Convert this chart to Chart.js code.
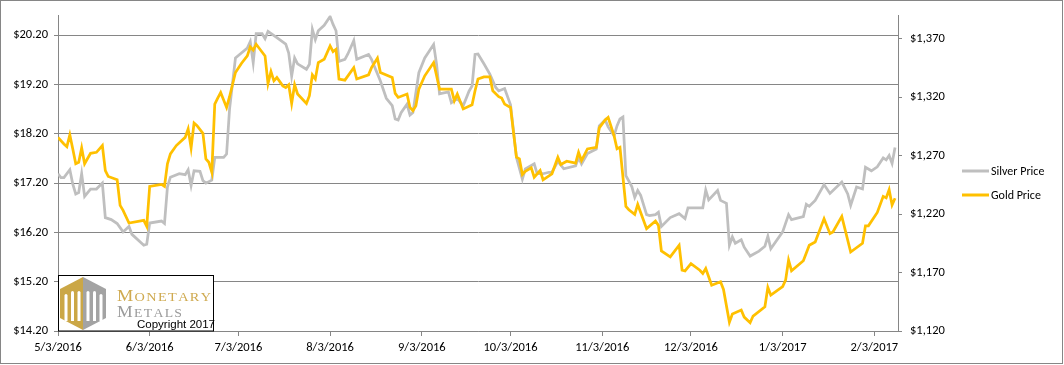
<!DOCTYPE html>
<html><head><meta charset="utf-8">
<script src="https://cdn.jsdelivr.net/npm/chart.js@4.4.1/dist/chart.umd.min.js"></script>
<style>html,body{margin:0;padding:0;background:#fff;}#wrap{width:1064px;height:365px;position:relative;}</style>
</head><body><div id="wrap"><canvas id="c" width="1064" height="365"></canvas></div>
<script>
const seriesNames = ["Silver Price", "Gold Price"];
const xTickLabels = ["5/3/2016","6/3/2016","7/3/2016","8/3/2016","9/3/2016","10/3/2016","11/3/2016","12/3/2016","1/3/2017","2/3/2017"];
const xAxisEnd = "2/11/2017";
const leftTicks = [14.2, 15.2, 16.2, 17.2, 18.2, 19.2, 20.2];
const leftMax = 20.6;
const rightTicks = [1120, 1170, 1220, 1270, 1320, 1370];
const rightMax = 1390;

const silverDates = ["5/3/2016","5/4/2016","5/5/2016","5/7/2016","5/8/2016","5/9/2016","5/10/2016","5/11/2016","5/12/2016","5/14/2016","5/16/2016","5/18/2016","5/19/2016","5/21/2016","5/23/2016","5/25/2016","5/27/2016","5/28/2016",
"6/1/2016","6/2/2016","6/3/2016","6/7/2016","6/8/2016","6/9/2016","6/10/2016","6/13/2016","6/15/2016","6/16/2016","6/17/2016","6/18/2016","6/20/2016","6/21/2016","6/22/2016","6/24/2016","6/25/2016","6/28/2016","6/29/2016","6/30/2016",
"7/2/2016","7/4/2016","7/6/2016","7/7/2016","7/8/2016","7/9/2016","7/11/2016","7/12/2016","7/13/2016","7/16/2016","7/19/2016","7/20/2016","7/21/2016","7/22/2016","7/23/2016","7/26/2016","7/27/2016","7/28/2016","7/29/2016","7/30/2016",
"8/1/2016","8/3/2016","8/4/2016","8/5/2016","8/6/2016","8/8/2016","8/9/2016","8/11/2016","8/12/2016","8/16/2016","8/17/2016","8/20/2016","8/22/2016","8/24/2016","8/25/2016","8/26/2016","8/27/2016","8/29/2016","8/30/2016","8/31/2016",
"9/2/2016","9/4/2016","9/7/2016","9/8/2016","9/9/2016","9/12/2016","9/13/2016","9/15/2016","9/17/2016","9/19/2016","9/20/2016","9/21/2016","9/22/2016","9/24/2016","9/26/2016","9/28/2016","9/29/2016",
"10/1/2016","10/3/2016","10/5/2016","10/7/2016","10/8/2016","10/11/2016","10/12/2016","10/14/2016","10/16/2016","10/17/2016","10/19/2016","10/21/2016","10/25/2016","10/26/2016","10/27/2016","10/29/2016",
"11/1/2016","11/2/2016","11/4/2016","11/5/2016","11/7/2016","11/8/2016","11/9/2016","11/10/2016","11/11/2016","11/13/2016","11/14/2016","11/15/2016","11/16/2016","11/18/2016","11/19/2016","11/21/2016","11/22/2016","11/23/2016","11/26/2016","11/29/2016",
"12/1/2016","12/2/2016","12/5/2016","12/7/2016","12/8/2016","12/9/2016","12/12/2016","12/13/2016","12/15/2016","12/16/2016","12/17/2016","12/18/2016","12/20/2016","12/21/2016","12/23/2016","12/26/2016","12/28/2016","12/29/2016","12/30/2016",
"1/3/2017","1/5/2017","1/6/2017","1/10/2017","1/11/2017","1/12/2017","1/14/2017","1/17/2017","1/19/2017","1/23/2017","1/25/2017","1/26/2017","1/28/2017","1/30/2017","1/31/2017",
"2/2/2017","2/4/2017","2/6/2017","2/7/2017","2/8/2017","2/9/2017","2/10/2017"];
const silverPrices = [17.39,17.31,17.31,17.47,17.18,16.98,17.01,17.39,16.93,17.08,17.08,17.20,16.50,16.46,16.38,16.21,16.32,16.16,
15.94,15.96,16.39,16.43,16.38,17.12,17.32,17.39,17.37,17.47,17.15,17.45,17.44,17.25,17.20,17.26,17.72,17.72,17.79,18.70,
19.74,19.84,19.94,20.07,19.64,20.23,20.23,20.13,20.28,20.15,20.02,19.84,19.37,19.74,19.62,19.51,19.61,20.32,20.11,20.29,
20.40,20.58,20.42,20.29,19.67,19.71,19.82,20.09,19.71,19.81,19.71,19.27,18.92,18.77,18.50,18.48,18.63,18.80,18.58,18.63,
19.44,19.74,20.01,19.61,19.01,19.05,18.83,18.92,18.77,19.07,19.17,19.81,19.82,19.62,19.41,19.14,19.07,
19.12,18.79,17.72,17.28,17.49,17.59,17.39,17.39,17.42,17.42,17.64,17.49,17.55,17.72,17.59,17.80,
17.89,18.36,18.48,18.34,18.16,18.36,18.50,18.54,17.35,17.13,16.91,17.05,16.95,16.56,16.54,16.56,16.61,16.32,16.50,16.58,
16.48,16.70,16.70,16.70,17.06,16.86,17.05,16.85,16.79,15.94,16.11,15.98,16.05,15.90,15.72,15.82,15.92,16.12,15.87,
16.21,16.56,16.46,16.52,16.77,16.73,16.85,17.17,16.99,17.22,16.98,16.75,17.12,17.08,17.52,
17.45,17.53,17.71,17.67,17.76,17.60,17.92];

const goldDates = ["5/3/2016","5/5/2016","5/6/2016","5/7/2016","5/8/2016","5/9/2016","5/10/2016","5/11/2016","5/12/2016","5/14/2016","5/16/2016","5/18/2016","5/19/2016","5/20/2016","5/23/2016","5/24/2016","5/25/2016","5/27/2016",
"6/1/2016","6/2/2016","6/3/2016","6/7/2016","6/8/2016","6/9/2016","6/10/2016","6/12/2016","6/15/2016","6/16/2016","6/17/2016","6/18/2016","6/19/2016","6/21/2016","6/22/2016","6/23/2016","6/24/2016","6/25/2016","6/26/2016","6/27/2016","6/29/2016","6/30/2016",
"7/2/2016","7/4/2016","7/6/2016","7/7/2016","7/8/2016","7/9/2016","7/12/2016","7/13/2016","7/14/2016","7/15/2016","7/16/2016","7/18/2016","7/19/2016","7/20/2016","7/21/2016","7/22/2016","7/23/2016","7/26/2016","7/27/2016","7/28/2016","7/29/2016","7/30/2016",
"8/1/2016","8/3/2016","8/4/2016","8/5/2016","8/6/2016","8/8/2016","8/11/2016","8/12/2016","8/16/2016","8/17/2016","8/19/2016","8/20/2016","8/24/2016","8/25/2016","8/26/2016","8/29/2016","8/30/2016","8/31/2016",
"9/1/2016","9/2/2016","9/4/2016","9/7/2016","9/8/2016","9/9/2016","9/13/2016","9/14/2016","9/15/2016","9/17/2016","9/20/2016","9/21/2016","9/22/2016","9/24/2016","9/26/2016","9/27/2016","9/29/2016","9/30/2016",
"10/1/2016","10/3/2016","10/5/2016","10/6/2016","10/7/2016","10/8/2016","10/10/2016","10/11/2016","10/13/2016","10/14/2016","10/17/2016","10/19/2016","10/20/2016","10/22/2016","10/25/2016","10/26/2016","10/27/2016","10/29/2016",
"11/1/2016","11/2/2016","11/4/2016","11/5/2016","11/7/2016","11/8/2016","11/9/2016","11/11/2016","11/12/2016","11/14/2016","11/15/2016","11/18/2016","11/21/2016","11/22/2016","11/23/2016","11/26/2016","11/29/2016","11/30/2016",
"12/1/2016","12/3/2016","12/6/2016","12/7/2016","12/8/2016","12/10/2016","12/13/2016","12/14/2016","12/16/2016","12/17/2016","12/20/2016","12/21/2016","12/23/2016","12/24/2016","12/28/2016","12/29/2016","12/30/2016",
"1/3/2017","1/4/2017","1/5/2017","1/6/2017","1/10/2017","1/11/2017","1/12/2017","1/14/2017","1/17/2017","1/19/2017","1/20/2017","1/23/2017","1/26/2017","1/30/2017","1/31/2017",
"2/1/2017","2/4/2017","2/6/2017","2/7/2017","2/8/2017","2/9/2017","2/10/2017"];
const goldPrices = [1285.7,1280.1,1277.8,1287.8,1275.8,1263.1,1264.4,1276.7,1263.1,1272.1,1272.9,1278.7,1257.3,1252.2,1249.4,1227.5,1223.2,1212.4,
1214.7,1209.6,1243.7,1245.4,1243.7,1263.1,1271.6,1278.7,1285.7,1292.9,1276.7,1298.0,1295.7,1289.1,1267.3,1264.4,1255.9,1314.2,1319.3,1324.1,1311.3,1320.5,
1341.2,1348.9,1355.4,1363.1,1360.3,1365.4,1355.4,1331.8,1342.0,1334.1,1336.9,1329.8,1328.4,1330.7,1314.7,1330.7,1322.8,1314.7,1321.3,1339.2,1335.6,1349.7,
1352.6,1364.0,1359.1,1361.1,1335.6,1334.7,1345.4,1335.6,1339.2,1345.4,1353.5,1341.2,1336.9,1323.3,1319.9,1322.8,1311.3,1308.5,
1312.8,1327.0,1338.4,1349.7,1338.4,1327.0,1327.0,1317.0,1322.8,1310.0,1313.6,1325.6,1335.6,1337.5,1337.5,1325.6,1320.5,1319.3,
1314.2,1311.3,1268.7,1267.3,1253.9,1256.7,1259.6,1251.6,1257.3,1249.4,1254.5,1268.7,1262.5,1265.3,1263.6,1272.9,1265.9,1275.8,
1277.2,1293.8,1300.6,1302.8,1287.2,1276.0,1277.2,1226.6,1223.8,1219.8,1228.3,1207.6,1214.1,1210.4,1188.5,1183.4,1193.4,1172.0,
1171.4,1177.7,1172.0,1169.2,1173.5,1159.2,1162.1,1155.6,1127.5,1134.5,1137.9,1131.9,1127.1,1132.8,1140.7,1157.3,1150.7,
1158.0,1163.5,1180.6,1171.6,1180.1,1186.8,1193.4,1196.2,1216.1,1203.3,1204.7,1218.1,1187.6,1195.1,1210.0,
1210.0,1221.5,1235.2,1233.9,1240.9,1227.9,1233.6];

const silverColor = '#BFBFBF';
const goldColor = '#FFC000';
const axisColor = '#868686';
const tickFont = {family: "Carlito, Calibri, 'Liberation Sans', sans-serif", size: 12.5};

function toDate(s) { const p = s.split('/').map(Number); return Date.UTC(p[2], p[0] - 1, p[1]); }
const origin = toDate(xTickLabels[0]);
function dayIndex(s) { return Math.round((toDate(s) - origin) / 86400000); }

const chromePlugin = {
  id: 'chrome',
  beforeDraw(chart) {
    const ctx = chart.ctx;
    ctx.save(); ctx.fillStyle = '#fff'; ctx.fillRect(0, 0, chart.width, chart.height); ctx.restore();
  },
  afterDraw(chart) {
    const ctx = chart.ctx;
    ctx.save();
    // legend
    const legend = [[seriesNames[0], silverColor, 171], [seriesNames[1], goldColor, 195]];
    ctx.font = "12px Carlito, Calibri, 'Liberation Sans', sans-serif";
    ctx.textBaseline = 'middle';
    legend.forEach(([t, c, y]) => {
      ctx.strokeStyle = c; ctx.lineWidth = 3;
      ctx.beginPath(); ctx.moveTo(962, y); ctx.lineTo(989, y); ctx.stroke();
      ctx.fillStyle = '#000'; ctx.fillText(t, 991, y + 0.5);
    });
    // logo box
    ctx.fillStyle = '#fff'; ctx.fillRect(58, 275, 155, 56);
    ctx.strokeStyle = '#000'; ctx.lineWidth = 1; ctx.strokeRect(58.5, 275.5, 155, 55.5);
    // hexagon mark
    ctx.fillStyle = '#CBA746';
    ctx.beginPath(); ctx.moveTo(83, 277); ctx.lineTo(83, 330); ctx.lineTo(60, 318); ctx.lineTo(60, 289); ctx.closePath(); ctx.fill();
    ctx.fillStyle = '#A3A3A3';
    ctx.beginPath(); ctx.moveTo(83, 277); ctx.lineTo(106, 289); ctx.lineTo(106, 318); ctx.lineTo(83, 330); ctx.closePath(); ctx.fill();
    ctx.fillStyle = '#fff';
    [[64.5, 294], [71, 291], [77.5, 291], [86.5, 291], [93, 291], [99.5, 294]].forEach(([x, y]) => {
      ctx.beginPath();
      ctx.moveTo(x, 321); ctx.lineTo(x, y + 1.5);
      ctx.arc(x + 1.5, y + 1.5, 1.5, Math.PI, 0);
      ctx.lineTo(x + 3, 321); ctx.closePath(); ctx.fill();
    });
    function caps(text, x, base, width, big, small, color) {
      ctx.save();
      ctx.fillStyle = color; ctx.textBaseline = 'alphabetic';
      ctx.font = big + "px 'Liberation Serif', serif";
      const w1 = ctx.measureText(text[0]).width;
      ctx.font = small + "px 'Liberation Serif', serif";
      const rest = text.slice(1).split('');
      const ws = rest.map(ch => ctx.measureText(ch).width);
      const gap = 1.2;
      const natural = w1 + ws.reduce((a, b) => a + b, 0) + gap * rest.length;
      ctx.translate(x, base); ctx.scale(width / natural, 1);
      ctx.font = big + "px 'Liberation Serif', serif"; ctx.fillText(text[0], 0, 0);
      ctx.font = small + "px 'Liberation Serif', serif";
      let cx = w1 + gap;
      rest.forEach((ch, i) => { ctx.fillText(ch, cx, 0); cx += ws[i] + gap; });
      ctx.restore();
    }
    caps('MONETARY', 117, 301, 94, 16, 12.5, '#CFAA50');
    caps('METALS', 117, 317, 65, 16, 12.5, '#9B9B9B');
    ctx.fillStyle = '#000'; ctx.font = "11.5px 'Liberation Sans', sans-serif"; ctx.textBaseline = 'alphabetic';
    ctx.fillText('Copyright 2017', 137, 328);
    // outer border
    ctx.strokeStyle = axisColor; ctx.lineWidth = 1; ctx.strokeRect(0.5, 0.5, 1062, 363);
    ctx.restore();
  }
};

new Chart(document.getElementById('c'), {
  type: 'line',
  data: {
    datasets: [
      { label: seriesNames[0], data: silverDates.map((d, i) => ({x: dayIndex(d), y: silverPrices[i]})),
        borderColor: silverColor, borderWidth: 2.75, pointRadius: 0, tension: 0, yAxisID: 'y', order: 2, fill: false },
      { label: seriesNames[1], data: goldDates.map((d, i) => ({x: dayIndex(d), y: goldPrices[i]})),
        borderColor: goldColor, borderWidth: 2.75, pointRadius: 0, tension: 0, yAxisID: 'y1', order: 1, fill: false }
    ]
  },
  options: {
    responsive: false, animation: false, devicePixelRatio: 1,
    layout: { padding: { top: 14, left: 0, right: 0, bottom: 0 } },
    plugins: { legend: { display: false }, tooltip: { enabled: false } },
    scales: {
      x: {
        type: 'linear', min: 0, max: dayIndex(xAxisEnd),
        afterBuildTicks: s => { s.ticks = xTickLabels.map(l => ({value: dayIndex(l)})); },
        ticks: { autoSkip: false, maxRotation: 0, minRotation: 0, color: '#000', font: tickFont, padding: 4,
          callback: v => { const l = xTickLabels.find(t => dayIndex(t) === v); return l || ''; } },
        grid: { drawOnChartArea: false, tickLength: 5, color: axisColor },
        border: { color: axisColor },
        afterFit: s => { s.height = 34; }
      },
      y: {
        position: 'left', min: leftTicks[0], max: leftMax,
        afterBuildTicks: s => { s.ticks = leftTicks.map(v => ({value: v})); },
        ticks: { color: '#000', font: tickFont, padding: 6, callback: v => '$' + Number(v).toFixed(2) },
        grid: { color: axisColor, tickLength: 4 },
        border: { color: axisColor },
        afterFit: s => { s.width = 58; }
      },
      y1: {
        position: 'right', min: rightTicks[0], max: rightMax,
        afterBuildTicks: s => { s.ticks = rightTicks.map(v => ({value: v})); },
        ticks: { color: '#000', font: tickFont, padding: 8, callback: v => '$' + Number(v).toLocaleString('en-US') },
        grid: { drawOnChartArea: false, color: axisColor, tickLength: 4 },
        border: { color: axisColor },
        afterFit: s => { s.width = 166; }
      }
    }
  },
  plugins: [chromePlugin]
});
</script></body></html>
